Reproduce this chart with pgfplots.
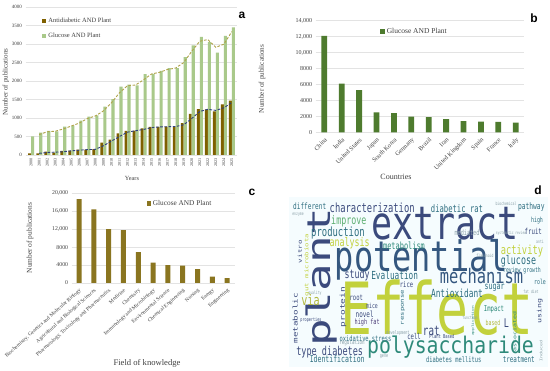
\documentclass[border=0pt]{standalone}
\usepackage{fontspec}
\setmainfont{Liberation Serif}
\setsansfont{Liberation Sans}
\newfontfamily\cloudfont{DejaVu Sans Mono}
\usepackage{graphicx}
\usepackage{pgfplots}
\usepackage{pgfplotstable}
\pgfplotsset{compat=1.18}

\definecolor{antiC}{HTML}{7F6000}
\definecolor{glucC}{HTML}{A9C98A}
\definecolor{trendA}{HTML}{2F3F7F}
\definecolor{trendG}{HTML}{B0A34A}
\definecolor{countryC}{HTML}{4E7B2E}
\definecolor{fieldC}{HTML}{8A7520}
\definecolor{gridC}{HTML}{E3E3E3}
\definecolor{txtC}{HTML}{404040}
\definecolor{vA}{HTML}{3B4A7C}
\definecolor{vB}{HTML}{34577F}
\definecolor{vT}{HTML}{2E6E80}
\definecolor{vG}{HTML}{2E8A7A}
\definecolor{vL}{HTML}{5EAF72}
\definecolor{vY}{HTML}{C2D13C}
\definecolor{vO}{HTML}{B2B83E}
\definecolor{vP}{HTML}{4B3C78}
\definecolor{vS}{HTML}{8AA0A8}

\newcommand{\WH}[5]{\node[inner sep=0pt, text=#4] at (#1,371-#2) {\fontsize{#3}{#3}\cloudfont\scalebox{0.7}[1]{#5}};}
\newcommand{\WB}[6]{\node[inner sep=0pt, anchor=base, text=#4] at (#1,371-#2) {\fontsize{#3}{#3}\cloudfont\scalebox{#6}[1]{#5}};}
\newcommand{\WV}[5]{\node[inner sep=0pt, rotate=90, text=#4] at (#1,371-#2) {\fontsize{#3}{#3}\cloudfont\scalebox{1}[0.7]{#5}};}

\pgfplotsset{panelstyle/.style={scale only axis, axis line style={draw=none},
  ymajorgrids, grid style={draw=gridC, line width=0.4pt},
  tick style={draw=none}, major tick length=0pt, scaled y ticks=false,
  /pgf/number format/assume math mode=true, /pgf/number format/1000 sep={},
  tick label style={text=txtC}, clip=false, legend cell align=left,
  legend style={draw=none, fill=none, text=txtC}}}

\pgfplotstableread{
year anti gluc
2000 45 500
2001 45 605
2002 90 650
2003 65 635
2004 110 770
2005 115 795
2006 145 930
2007 145 1040
2008 160 1070
2009 335 1310
2010 415 1510
2011 585 1850
2012 650 1900
2013 660 1880
2014 720 2185
2015 760 2195
2016 760 2275
2017 770 2350
2018 770 2350
2019 860 2645
2020 1110 2960
2021 1240 3190
2022 1230 3050
2023 1180 2770
2024 1370 3220
2025 1470 3450
}\dataA

\pgfplotstableread{
year ta tg
2001 45 552.5
2002 67.5 627.5
2003 77.5 642.5
2004 87.5 702.5
2005 112.5 782.5
2006 130 862.5
2007 145 985
2008 152.5 1055
2009 247.5 1190
2010 375 1410
2011 500 1680
2012 617.5 1875
2013 655 1890
2014 690 2032.5
2015 740 2190
2016 760 2235
2017 765 2312.5
2018 770 2350
2019 815 2497.5
2020 985 2802.5
2021 1175 3075
2022 1235 3120
2023 1205 2910
2024 1275 2995
2025 1420 3335
}\trendTab

\pgfplotstableread{
x v
0 12100
1 6100
2 5300
3 2500
4 2400
5 1950
6 1900
7 1650
8 1400
9 1350
10 1300
11 1200
}\dataB

\pgfplotstableread{
x v
0 18700
1 16400
2 12000
3 11800
4 6900
5 4550
6 4000
7 3900
8 3100
9 1400
10 1100
}\dataC

\begin{document}
\begin{tikzpicture}[x=1pt,y=1pt]
\fill[white] (0,0) rectangle (550,371);

% ---------------- panel a
\begin{axis}[panelstyle, at={(25.5pt,216pt)}, anchor=south west, width=212pt, height=148pt,
  xmin=1999.3, xmax=2025.7, ymin=0, ymax=4000, ytick={0,500,...,4000},
  xtick={2000,...,2025},
  x tick label style={rotate=90, anchor=east, font=\fontsize{4.2}{5}\selectfont},
  y tick label style={font=\fontsize{5}{6}\selectfont},
  legend style={at={(0.065,0.955)}, anchor=north west, font=\fontsize{6.5}{7}\selectfont, row sep=5pt}]
\addplot[ybar, bar width=2.9pt, bar shift=-1.45pt, fill=antiC, draw=none,
  legend image code/.code={\fill[antiC] (0pt,-2pt) rectangle (4pt,2pt);}]
  table[x=year,y=anti]{\dataA};
\addlegendentry{Antidiabetic AND Plant}
\addplot[ybar, bar width=3.1pt, bar shift=1.55pt, fill=glucC, draw=none,
  legend image code/.code={\fill[glucC] (0pt,-2pt) rectangle (4pt,2pt);}]
  table[x=year,y=gluc]{\dataA};
\addlegendentry{Glucose AND Plant}
\addplot[trendG, line width=0.9pt, dash pattern=on 2.6pt off 1.6pt, forget plot] table[x=year,y=tg]{\trendTab};
\addplot[trendA, line width=0.9pt, dash pattern=on 2.6pt off 1.6pt, forget plot] table[x=year,y=ta]{\trendTab};
\end{axis}

% ---------------- panel b
\begin{axis}[panelstyle, at={(315.6pt,238.7pt)}, anchor=south west, width=208.8pt, height=111.6pt,
  xmin=-0.5, xmax=11.5, ymin=0, ymax=14000, ytick={0,2000,...,14000},
  yticklabels={0,2000,4000,6000,8000,{10,000},{12,000},{14,000}},
  xtick={0,...,11},
  xticklabels={China,India,United States,Japan,South Korea,Germany,Brazil,Iran,United Kingdom,Spain,France,Italy},
  x tick label style={rotate=45, anchor=north east, font=\fontsize{6.3}{7}\selectfont},
  y tick label style={font=\fontsize{6}{7}\selectfont},
  legend style={at={(0.295,0.97)}, anchor=north west, font=\fontsize{7.5}{8}\selectfont}]
\addplot[ybar, bar width=5.8pt, bar shift=0pt, fill=countryC, draw=none,
  legend image code/.code={\fill[countryC] (0pt,-2.2pt) rectangle (4.4pt,2.2pt);}]
  table[x=x,y=v]{\dataB};
\addlegendentry{Glucose AND Plant}
\end{axis}

% ---------------- panel c
\begin{axis}[panelstyle, at={(71.6pt,88pt)}, anchor=south west, width=163pt, height=89.7pt,
  xmin=-0.5, xmax=10.5, ymin=0, ymax=20000, ytick={0,4000,...,20000},
  yticklabels={0,4000,8000,{12,000},{16,000},{20,000}},
  xtick={0,...,10},
  xticklabels={{Biochemistry, Genetics and Molecular Biology},Agricultural and Biological Sciences,{Pharmacology, Toxicology and Pharmaceutics},Medicine,Chemistry,Immunology and Microbiology,Environmental Science,Chemical Engineering,Nursing,Energy,Engineering},
  x tick label style={rotate=42, anchor=north east, font=\fontsize{5.3}{6}\selectfont},
  y tick label style={font=\fontsize{5.8}{7}\selectfont},
  legend style={at={(0.44,0.97)}, anchor=north west, font=\fontsize{7.3}{8}\selectfont}]
\addplot[ybar, bar width=5pt, bar shift=0pt, fill=fieldC, draw=none,
  legend image code/.code={\fill[fieldC] (0pt,-2.2pt) rectangle (4.4pt,2.2pt);}]
  table[x=x,y=v]{\dataC};
\addlegendentry{Glucose AND Plant}
\end{axis}

% ---------------- axis titles
\node[rotate=90, text=txtC, font=\fontsize{7}{8}\selectfont] at (6,289) {Number of publications};
\node[text=txtC, font=\fontsize{6.3}{7}\selectfont] at (132,193) {Years};
\node[rotate=90, text=txtC, font=\fontsize{7.2}{8}\selectfont] at (262,292) {Number of publications};
\node[text=txtC, font=\fontsize{8}{9}\selectfont] at (396,194) {Countries};
\node[rotate=90, text=txtC, font=\fontsize{7.4}{8}\selectfont] at (30,133) {Number of publications};
\node[text=txtC, font=\fontsize{8.6}{9}\selectfont] at (147,8) {Field of knowledge};

% ---------------- panel d : word cloud
\fill[white!96!cyan] (289,371-197) rectangle (548,371-367);
% big words
\WB{444.7}{240}{46}{vA}{extract}{0.76}
\WB{421.3}{271.7}{42}{vB}{potential}{0.76}
\WB{481.5}{284}{20}{vB}{mechanism}{0.77}
\WB{437}{335}{72}{vY}{Effect}{0.74}
\WB{450.5}{353.3}{23}{vG}{polysaccharide}{0.86}
\WV{322}{277.5}{46}{vA}{plant}
% medium / small horizontal
\WH{309.7}{206.5}{8.7}{vT}{different}
\WH{372.2}{208.3}{12.6}{vA}{characterization}
\WH{457}{208.3}{10.3}{vT}{diabetic rat}
\WH{531.3}{206.7}{9}{vT}{pathway}
\WH{506}{204}{4.5}{vS}{biochemical}
\WH{537}{220.7}{7.1}{vT}{high}
\WH{348.8}{221.7}{11.9}{vL}{improve}
\WH{338}{232.7}{12.7}{vT}{production}
\WH{349.7}{242.7}{11.9}{vY}{analysis}
\WH{467}{232.7}{7.4}{vS}{mediated}
\WH{511}{233.5}{4.2}{vS}{systematic review}
\WH{533.3}{231.7}{8.2}{vA}{fruit}
\WH{540}{241.7}{4.5}{vS}{anti}
\WH{404}{245.3}{9.9}{vG}{metabolism}
\WH{522}{251}{12.5}{vY}{activity}
\WH{518.5}{261}{11.9}{vT}{glucose}
\WH{522}{270.7}{6.9}{vT}{review growth}
\WH{357.2}{275.7}{11.9}{vA}{study}
\WH{394.7}{275}{11.1}{vT}{Evaluation}
\WH{406.5}{285}{7.9}{vA}{rice}
\WH{457}{293.3}{11.2}{vT}{Antioxidant}
\WH{494.7}{288.3}{9.5}{vT}{sugar}
\WH{540}{281.7}{7}{vT}{role}
\WH{531}{291.7}{4.5}{vS}{fat diet}
\WH{356.3}{297.3}{7.9}{vA}{root}
\WH{372}{306}{6.9}{vA}{mice}
\WH{364.7}{314}{8.5}{vA}{novel}
\WH{367.2}{322.3}{7.4}{vP}{high fat}
\WH{494}{309.3}{8}{vG}{Impact}
\WH{493}{322.7}{7}{vO}{based}
\WH{506.3}{323.3}{12}{vA}{L}
\WH{431.3}{330.7}{13.2}{vA}{rat}
\WH{442}{336.7}{5.4}{vA}{Plant Based}
\WH{414}{336.7}{8}{vA}{cell}
\WH{365.5}{338.3}{7.7}{vT}{oxidative stress}
\WH{352}{342.7}{6}{vS}{regulation}
\WH{398}{332.7}{5}{vS}{development}
\WH{384}{356.7}{5}{vS}{gene}
\WH{329.7}{351.7}{12.2}{vA}{type diabetes}
\WH{337.2}{359.3}{9.3}{vT}{Identification}
\WH{453.8}{360}{7.7}{vT}{diabetes mellitus}
\WH{518.8}{360}{8.4}{vT}{treatment}
\WH{311}{320}{5}{vA}{properties}
\WH{315}{293}{4.5}{vS}{quality}
\WH{310.5}{300}{14.5}{vO}{via}
\WH{298}{215}{4.5}{vS}{enzyme}
\WH{485}{256}{4.5}{vS}{flavonoid}
\WH{470}{318}{4.5}{vS}{function}
% vertical words
\WV{295.3}{318.3}{9.2}{vA}{metabolic}
\WV{300}{251.7}{7.6}{vA}{vitro}
\WV{307}{265}{7.4}{vY}{gut microbiota}
\WV{343}{307}{9.5}{vA}{protein}
\WV{403}{307.5}{7.3}{vT}{response}
\WV{514.7}{331.7}{6.6}{vG}{associated}
\WV{539.7}{310.8}{8.3}{vA}{using}
\WV{473}{321}{4.5}{vG}{application}
\WV{541}{351}{5}{vS}{Induced}

% panel letters
\node[font=\sffamily\bfseries\fontsize{12}{12}\selectfont] at (242,356) {a};
\node[font=\sffamily\bfseries\fontsize{12}{12}\selectfont] at (534,353) {b};
\node[font=\sffamily\bfseries\fontsize{12}{12}\selectfont] at (252,179) {c};
\node[font=\sffamily\bfseries\fontsize{12}{12}\selectfont] at (538,181) {d};

\pgfresetboundingbox
\useasboundingbox (0,0) rectangle (550,371);
\end{tikzpicture}
\end{document}
